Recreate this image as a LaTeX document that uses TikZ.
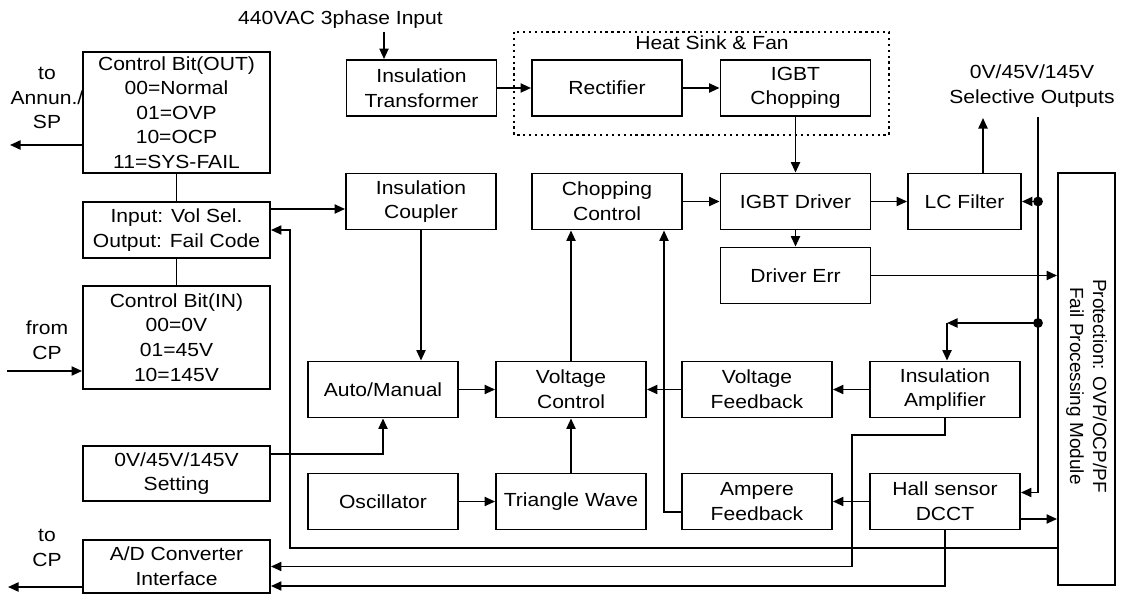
\documentclass[tikz,border=0pt]{standalone}
\usepackage{fontspec}
\setmainfont{Liberation Sans}[FakeStretch=1.11]
\newfontfamily\protfont{Liberation Sans}
\usetikzlibrary{arrows.meta,calc}

\tikzset{
  blk/.style={draw, line width=1.3pt, align=center, inner sep=0pt,
    minimum width=3.75cm, minimum height=1.4cm},
  wide/.style={blk, minimum width=4.675cm},
  ln/.style={line width=1.3pt},
  arr/.style={line width=1.3pt, -{Triangle[length=7.5pt,width=6.5pt]}},
  dot/.style={circle, fill, inner sep=0pt, minimum size=7pt}
}

\begin{document}
\begin{tikzpicture}[x=0.025cm, y=-0.025cm, font=\fontsize{13.5}{17.5}\selectfont]
  \useasboundingbox (0,0) rectangle (1122,596);

  %% left column
  \node[wide, minimum height=3.025cm] (cbout) at (176.5,112.5)
    {Control Bit(OUT)\\00=Normal\\01=OVP\\10=OCP\\11=SYS-FAIL};
  \node[wide] (iosel) at (176.5,230) {Input: Vol Sel.\\Output: Fail Code};
  \node[wide, minimum height=2.575cm] (cbin) at (176.5,337.5)
    {Control Bit(IN)\\00=0V\\01=45V\\10=145V};
  \node[wide, minimum height=1.375cm] (setting) at (176.5,473.5) {0V/45V/145V\\Setting};
  \node[wide, minimum height=1.325cm] (adconv) at (176.5,566.5) {A/D Converter\\Interface};

  \node[align=center] (annun) at (47,98) {to\\Annun./\\SP};
  \node[align=center] (fromcp) at (47,340) {from\\CP};
  \node[align=center] (tocp) at (47,548) {to\\CP};

  %% power path
  \node (acin) at (340.5,20) {440VAC 3phase Input};
  \node[blk] (trans) at (421.5,88) {Insulation\\Transformer};
  \node[blk] (rect) at (607,88) {Rectifier};
  \node[blk] (chop) at (795.5,88) {IGBT\\Chopping};
  \draw[ln, dash pattern=on 1.6pt off 2.6pt] (514,32) rectangle (889,135);
  \node (hsink) at (712,43) {Heat Sink \& Fan};

  %% control blocks
  \node[blk] (coupler) at (421,201.5) {Insulation\\Coupler};
  \node[blk] (chopctl) at (607,201.5) {Chopping\\Control};
  \node[blk] (drv) at (795.5,201.5) {IGBT Driver};
  \node[blk] (drverr) at (795.5,275.5) {Driver Err};
  \node[blk, minimum width=2.825cm] (lc) at (964.5,201.5) {LC Filter};
  \node[align=center] (selout) at (1032,86) {0V/45V/145V\\Selective Outputs};

  \node[blk] (auto) at (383,389.5) {Auto/Manual};
  \node[blk] (vctl) at (571,389.5) {Voltage\\Control};
  \node[blk] (vfb) at (757,389.5) {Voltage\\Feedback};
  \node[blk] (iamp) at (945,389.5) {Insulation\\Amplifier};
  \node[blk] (osc) at (383,501.5) {Oscillator};
  \node[blk] (tri) at (571,501.5) {Triangle Wave};
  \node[blk] (afb) at (757,501.5) {Ampere\\Feedback};
  \node[blk] (hall) at (945,501.5) {Hall sensor\\DCCT};

  %% protection module
  \node[blk, minimum width=1.425cm, minimum height=10.3cm] (prot) at (1086.5,379) {};
  \node[rotate=-90, align=center, font=\protfont\fontsize{13.5}{16.5}\selectfont]
    (protlbl) at ($(prot.center)+(0,7)$) {Protection: OVP/OCP/PF\\Fail Processing Module};

  %% connectors, power side
  \coordinate (acdrop) at (384,32);
  \draw[arr] (acdrop) -- (acdrop |- trans.north);
  \draw[arr] (trans) -- (rect);
  \draw[arr] (rect) -- (chop);
  \draw[arr] (chop) -- (drv);
  \draw[arr] (chopctl) -- (drv);
  \draw[arr] (drv) -- (lc);
  \draw[arr] (drv) -- (drverr);
  \draw[arr] (drverr) -- (drverr -| prot.west);
  \coordinate (selup) at (983,118);
  \draw[arr] (lc.north -| selup) -- (selup);

  %% sense bus
  \coordinate (seltap) at (1038,117);
  \draw[arr] (seltap) |- ($(hall.east)+(0,-9)$);
  \node[dot] (j1) at (1038,201.5) {};
  \node[dot] (j2) at (1038,323) {};
  \draw[arr] (j1.center) -- (lc.east |- j1);
  \coordinate (ampcorner) at (947,323);
  \draw[arr] (j2.center) -- (ampcorner);
  \draw[arr] (ampcorner) -- (ampcorner |- iamp.north);

  %% left side
  \draw[ln] (cbout) -- (iosel);
  \draw[ln] (iosel) -- (cbin);
  \coordinate (annunout) at (10,145);
  \draw[arr] (cbout.west |- annunout) -- (annunout);
  \coordinate (cpin) at (7,371);
  \draw[arr] (cpin) -- (cpin -| cbin.west);
  \coordinate (cpout) at (8,587);
  \draw[arr] (cpout -| adconv.west) -- (cpout);
  \draw[arr] ($(iosel.east)+(0,-21)$) coordinate (vs) -- (vs -| coupler.west);
  \coordinate (failbus) at (290,548);
  \draw[arr] (prot.west |- failbus) -- (failbus) |- (iosel.east);

  %% regulation loop
  \draw[arr] (coupler.south) -- (coupler.south |- auto.north);
  \draw[arr] ($(setting.east)+(0,-19.5)$) -| (auto.south);
  \draw[arr] (auto) -- (vctl);
  \draw[arr] (osc) -- (tri);
  \draw[arr] (tri) -- (vctl);
  \draw[arr] (vctl.north) -- (vctl.north |- chopctl.south);
  \draw[arr] (vfb) -- (vctl);
  \draw[arr] (iamp) -- (vfb);
  \draw[arr] (hall) -- (afb);
  \draw[arr] ($(afb.west)+(0,10.5)$) -| ($(chopctl.south)+(57,0)$);
  \coordinate (ampbend) at (852,435);
  \draw[arr] (iamp.south) |- (ampbend) |- (adconv.east);
  \draw[arr] (hall.south) |- ($(adconv.east)+(0,19.5)$);
  \draw[arr] ($(hall.east)+(0,17.5)$) coordinate (hp) -- (hp -| prot.west);

\end{tikzpicture}
\end{document}
